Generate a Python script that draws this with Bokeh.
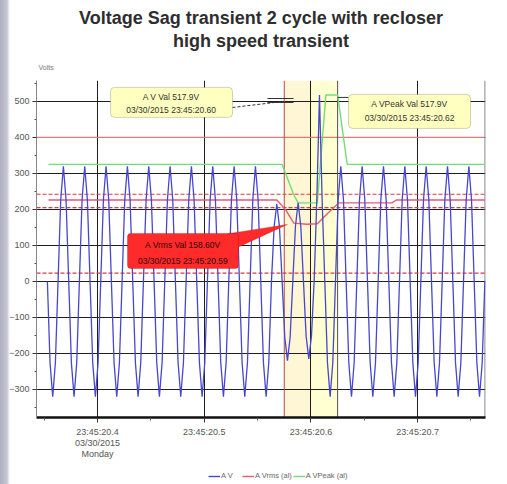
from bokeh.plotting import figure
from bokeh.layouts import column
from bokeh.models import (Range1d, FixedTicker, Span, BoxAnnotation, Label,
                          PolyAnnotation, Legend, LegendItem, Title, Arrow)
from bokeh.embed import file_html
from bokeh.resources import INLINE

FONT = "Liberation Sans"

# ---------------- data ----------------
x_tick_values = [20.4, 20.5, 20.6, 20.7]
x_tick_labels = ["23:45:20.4\n03/30/2015\nMonday", "23:45:20.5", "23:45:20.6", "23:45:20.7"]
x_minor_values = [20.35, 20.45, 20.55, 20.65, 20.75]
y_tick_values = [-300, -200, -100, 0, 100, 200, 300, 400, 500]
y_minor_values = [-350, -250, -150, -50, 50, 150, 250, 350, 450, 550]

# A V waveform samples (V), one sample every av_step seconds from av_start
av_start = 20.353
av_step = 0.0025
av_values = [
    0, -226, -320, -226, 0, 226, 320, 226,
    0, -226, -320, -226, 0, 226, 320, 226,
    0, -226, -320, -226, 0, 226, 320, 226,
    0, -226, -320, -226, 0, 226, 320, 226,
    0, -226, -320, -226, 0, 226, 320, 226,
    0, -226, -320, -226, 0, 226, 320, 226,
    0, -226, -320, -226, 0, 226, 320, 226,
    0, -226, -320, -226, 0, 226, 320, 226,
    0, -226, -320, -226, 0, 226, 320, 226,
    0, -226, -320, -226, 0, 226, 320, 226,
    0, -226, -320, -226, 0, 152, 215, 152,
    0, -155, -220, -155, 0, 154, 218, 154,
    0, -152, -215, -152, 0, 226, 517.9, 226,
    0, -226, -320, -226, 0, 226, 320, 226,
    0, -226, -320, -226, 0, 226, 320, 226,
    0, -226, -320, -226, 0, 226, 320, 226,
    0, -226, -320, -226, 0, 226, 320, 226,
    0, -226, -320, -226, 0, 226, 320, 226,
    0, -226, -320, -226, 0, 226, 320, 226,
    0, -226, -320, -226, 0, 226, 320, 226,
    0, -226, -320, -226, 0,
]

vrms_t = [20.354, 20.568, 20.576, 20.584, 20.596, 20.606, 20.616, 20.626, 20.676, 20.680, 20.763]
vrms_v = [226, 226, 200, 162, 158.6, 160, 190, 218, 218, 226, 226]

vpeak_t = [20.354, 20.573, 20.584, 20.588, 20.606, 20.614, 20.625, 20.634, 20.763]
vpeak_v = [325, 325, 240, 218, 218, 517.9, 517.9, 325, 325]

limit_solid = [400]
limit_dashed = [242, 205, 23]
cursor_times = [20.575, 20.625]

title_lines = ["Voltage Sag transient 2 cycle with recloser", "high speed transient"]
y_unit = "Volts"
series_names = ["A V", "A Vrms (al)", "A VPeak (al)"]
series_colors = ["#4646cf", "#e8587a", "#74dc74"]

# ---------------- main figure ----------------
p = figure(width=507, height=462,
           x_range=Range1d(20.3428, 20.7636), y_range=Range1d(-378, 558),
           output_backend="svg", toolbar_location=None, title=None,
           min_border_left=36, min_border_right=22, min_border_top=80, min_border_bottom=45)
p.outline_line_color = None
p.background_fill_color = "white"
p.border_fill_alpha = 0

# titles (first added sits closest to the frame)
p.add_layout(Title(text=y_unit, align="left", offset=2, standoff=20, text_font=FONT,
                   text_font_size="7px", text_font_style="normal", text_color="#777777"), "above")
p.add_layout(Title(text=title_lines[1], align="center", standoff=1, text_font=FONT, text_font_size="18px",
                   text_font_style="bold", text_color="#2e2e2e"), "above")
p.add_layout(Title(text=title_lines[0], align="center", standoff=1, text_font=FONT, text_font_size="18px",
                   text_font_style="bold", text_color="#2e2e2e"), "above")

# axes
p.xaxis.ticker = FixedTicker(ticks=x_tick_values, minor_ticks=x_minor_values)
p.xaxis.major_label_overrides = dict(zip(x_tick_values, x_tick_labels))
p.yaxis.ticker = FixedTicker(ticks=y_tick_values, minor_ticks=y_minor_values)
for ax in (p.xaxis[0], p.yaxis[0]):
    ax.major_label_text_font = FONT
    ax.major_label_text_font_size = "9px"
    ax.major_label_text_color = "#555555"
    ax.major_tick_in = 0
    ax.minor_tick_in = 0
    ax.major_tick_line_color = "#333333"
    ax.minor_tick_line_color = "#555555"
p.xaxis.axis_line_color = "#111111"
p.xaxis.axis_line_width = 2.5
p.xaxis.major_tick_out = 5
p.xaxis.minor_tick_out = 3
p.xaxis.major_label_standoff = 4
p.xaxis.major_label_text_line_height = 1.1
p.yaxis.axis_line_color = "#888888"
p.yaxis.major_tick_out = 4
p.yaxis.minor_tick_out = 2
p.yaxis.major_label_standoff = 3

# grid
p.xgrid.ticker = FixedTicker(ticks=x_tick_values)
p.ygrid.ticker = FixedTicker(ticks=y_tick_values)
for g in (p.xgrid[0], p.ygrid[0]):
    g.grid_line_color = "#1e1e1e"
    g.grid_line_width = 1

# event band
p.add_layout(BoxAnnotation(left=cursor_times[0], right=20.6, fill_color="#fff6d6", fill_alpha=1,
                           line_color=None, level="image"))
p.add_layout(BoxAnnotation(left=20.6, right=cursor_times[1], fill_color="#ffffd2", fill_alpha=1,
                           line_color=None, level="image"))

# limit lines
for v in limit_solid:
    p.add_layout(Span(location=v, dimension="width", line_color="#e07a7a", line_width=1.2, level="underlay"))
for v in limit_dashed:
    p.add_layout(Span(location=v, dimension="width", line_color="#d83c3c", line_width=1.2,
                      line_dash="4 2", level="underlay"))

# cursors and right edge
p.add_layout(Span(location=cursor_times[0], dimension="height", line_color="#b84a4a", line_width=1, level="underlay"))
p.add_layout(Span(location=cursor_times[1], dimension="height", line_color="#505050", line_width=1, level="underlay"))
p.add_layout(Span(location=20.7632, dimension="height", line_color="#777777", line_width=1.2, level="underlay"))

# series
t_av = [av_start + av_step * i for i in range(len(av_values))]
r_rms = p.line(vrms_t, vrms_v, line_color=series_colors[1], line_width=1.4)
r_pk = p.line(vpeak_t, vpeak_v, line_color=series_colors[2], line_width=1.4)
r_av = p.line(t_av, av_values, line_color=series_colors[0], line_width=1.3)

# callout 1 : A V
p.add_layout(Arrow(end=None, x_start=20.5265, y_start=483, x_end=20.5743, y_end=500,
                   line_color="#333333", line_width=1, line_dash="3 2"))
p.add_layout(Arrow(end=None, x_start=20.5593, y_start=508, x_end=20.5837, y_end=508,
                   line_color="#333333", line_width=1))
p.add_layout(Arrow(end=None, x_start=20.5593, y_start=497, x_end=20.5837, y_end=497,
                   line_color="#333333", line_width=1))
p.add_layout(BoxAnnotation(left=20.4122, right=20.5265, bottom=455.6, top=538.9,
                           fill_color="#ffffc0", fill_alpha=1, line_color="#6b6b50", line_width=1,
                           border_radius=4))
p.add_layout(Label(x=20.469, y=511, text="A V Val 517.9V", text_align="center", text_baseline="middle",
                   text_font=FONT, text_font_size="8.5px", text_color="#333333"))
p.add_layout(Label(x=20.469, y=475, text="03/30/2015 23:45:20.60", text_align="center", text_baseline="middle",
                   text_font=FONT, text_font_size="8.5px", text_color="#333333"))

# callout 2 : A VPeak
p.add_layout(Arrow(end=None, x_start=20.6249, y_start=511, x_end=20.6352, y_end=511,
                   line_color="#333333", line_width=1))
p.add_layout(BoxAnnotation(left=20.6352, right=20.7496, bottom=425, top=519.4,
                           fill_color="#ffffc0", fill_alpha=1, line_color="#6b6b50", line_width=1,
                           border_radius=4))
p.add_layout(Label(x=20.6924, y=491.7, text="A VPeak Val 517.9V", text_align="center", text_baseline="middle",
                   text_font=FONT, text_font_size="8.5px", text_color="#333333"))
p.add_layout(Label(x=20.6924, y=452.8, text="03/30/2015 23:45:20.62", text_align="center", text_baseline="middle",
                   text_font=FONT, text_font_size="8.5px", text_color="#333333"))

# callout 3 : A Vrms
p.add_layout(PolyAnnotation(xs=[20.5181, 20.5312, 20.578], ys=[130.6, 94.4, 158.3],
                            fill_color="#ff2b2b", fill_alpha=1, line_color="#a81414", line_width=1))
p.add_layout(BoxAnnotation(left=20.4281, right=20.5321, bottom=36.1, top=133.3,
                           fill_color="#ff2b2b", fill_alpha=1, line_color="#8a1010", line_width=1,
                           border_radius=3))
p.add_layout(Label(x=20.480, y=100, text="A Vrms Val 158.60V", text_align="center", text_baseline="middle",
                   text_font=FONT, text_font_size="8.5px", text_color="#330000"))
p.add_layout(Label(x=20.480, y=58, text="03/30/2015 23:45:20.59", text_align="center", text_baseline="middle",
                   text_font=FONT, text_font_size="8.5px", text_color="#330000"))

# ---------------- legend strip ----------------
lg = figure(width=507, height=22, x_range=Range1d(0, 1), y_range=Range1d(0, 1),
            output_backend="svg", toolbar_location=None, title=None,
            x_axis_location=None, y_axis_location=None, min_border=0)
lg.outline_line_color = None
lg.grid.visible = False
lg.border_fill_alpha = 0
lg.background_fill_alpha = 0
# legend swatch proxies, kept outside the visible range
proxies = [lg.line([5, 6], [5, 5], line_color=c, line_width=1.4) for c in series_colors]
legend = Legend(items=[LegendItem(label=n, renderers=[r]) for n, r in zip(series_names, proxies)],
                orientation="horizontal", location=(172, 4),
                label_text_font=FONT, label_text_font_size="7.5px", label_text_color="#666666",
                glyph_width=12, glyph_height=6, label_height=8, label_standoff=1, spacing=1,
                padding=0, margin=0, border_line_color=None, background_fill_alpha=0)
lg.add_layout(legend)

page = column(p, lg, spacing=0)
page.styles = {"background": "linear-gradient(to right, #aeaebe 0px, #c6c6d2 7px, #ffffff 10px)"}

open("out.html", "w").write(file_html(page, INLINE))
